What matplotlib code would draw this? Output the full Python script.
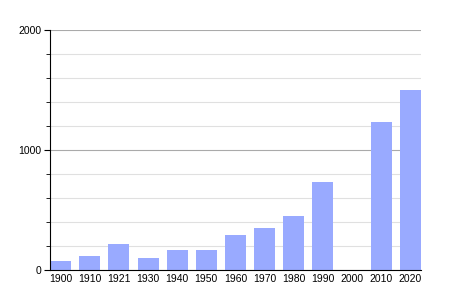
import matplotlib
matplotlib.use("Agg")
import matplotlib.pyplot as plt
from matplotlib.ticker import MultipleLocator

years = ["1900", "1910", "1921", "1930", "1940", "1950", "1960",
         "1970", "1980", "1990", "2000", "2010", "2020"]
population = [75, 117, 217, 100, 167, 167, 292, 350, 450, 733, 0, 1233, 1500]

plt.rcParams["font.family"] = ["Liberation Sans", "DejaVu Sans"]

fig = plt.figure(figsize=(4.5, 3), dpi=100)
ax = fig.add_axes([0.111, 0.1, 0.825, 0.8])

x = list(range(len(years)))
ax.bar(x, population, width=0.72, color="#99aaff", zorder=2)

ax.set_xlim(-0.37, len(years) - 0.62)
ax.set_ylim(0, 2000)
ax.set_xticks(x)
ax.set_xticklabels(years)
ax.yaxis.set_major_locator(MultipleLocator(1000))
ax.yaxis.set_minor_locator(MultipleLocator(200))

ax.grid(axis="y", which="major", color="#aaaaaa", linewidth=0.8, zorder=0)
ax.grid(axis="y", which="minor", color="#e0e0e0", linewidth=0.8, zorder=0)

for side in ["top", "right"]:
    ax.spines[side].set_visible(False)
ax.spines["left"].set_color("black")
ax.spines["bottom"].set_color("black")

ax.tick_params(axis="x", length=0, labelsize=7.5, pad=3)
ax.tick_params(axis="y", which="major", length=4, labelsize=7.5, pad=2)
ax.tick_params(axis="y", which="minor", length=3)

fig.savefig("out.png", dpi=100)
